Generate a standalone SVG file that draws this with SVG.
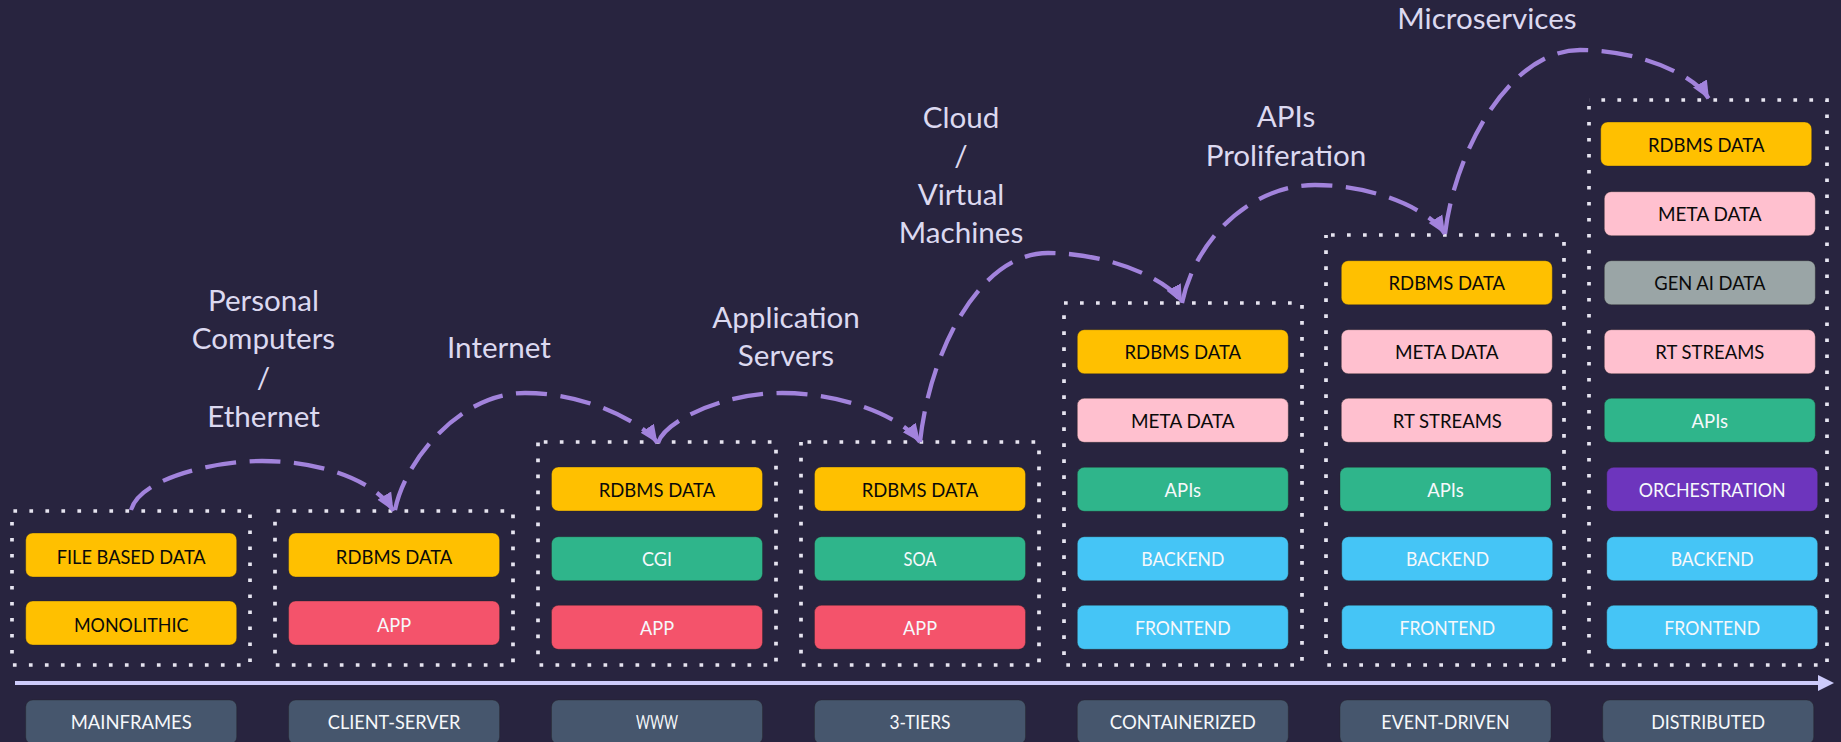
<svg xmlns="http://www.w3.org/2000/svg" width="1841" height="742" viewBox="0 0 1841 742">
<style>
text{font-family:"Lato","Carlito","Liberation Sans",sans-serif;text-anchor:middle}
.t{font-size:19.500px}
.k{fill:#0a0a0a}.w{fill:#f6f8fb}
.c{font-size:29.600px;fill:#dcd9f0}
.d{fill:none;stroke:#e6e4f0;stroke-width:3.700;stroke-dasharray:3.700 12.300}
.b{width:211px;height:44px;rx:7px;stroke-width:1;stroke-opacity:.35;stroke:#222}
.y{fill:#ffc000}.p{fill:#ffc0cf}.r{fill:#f4536b}.g{fill:#2fb58b}.s{fill:#45c5f6}.a{fill:#9aa5a6}.v{fill:#6d35bd}.l{fill:#46566d}
.e{fill:none;stroke:#a283dc;stroke-width:4.300;stroke-dasharray:31 13.500}
</style>
<defs>
<marker id="h" markerUnits="userSpaceOnUse" markerWidth="20" markerHeight="20" refX="18" refY="9" orient="auto"><path d="M0 1L18 9L0 17z" fill="#a283dc"/></marker>
<marker id="t" markerUnits="userSpaceOnUse" markerWidth="18" markerHeight="18" refX="0" refY="8" orient="auto"><path d="M0 0L16 8L0 16z" fill="#cdcbfb"/></marker>
</defs>
<rect width="1841" height="742" fill="#28243f"/>
<g id="frames">
<rect class="d" x="12" y="511" width="238" height="154" stroke-dashoffset="-1.400"/>
<rect class="d" x="275" y="511" width="238" height="154" stroke-dashoffset="-1.500"/>
<rect class="d" x="538" y="442" width="238" height="223" stroke-dashoffset="-5.800"/>
<rect class="d" x="801" y="442" width="238" height="223" stroke-dashoffset="-6.500"/>
<rect class="d" x="1064" y="303" width="238" height="362"/>
<rect class="d" x="1326" y="235" width="238" height="430" stroke-dashoffset="-5"/>
<rect class="d" x="1589" y="100" width="238" height="565" stroke-dashoffset="3.600"/>
</g>
<g id="connectors">
<path class="e" marker-end="url(#h)" d="M131 510C140 478 215 461 262 461C320 461 375 480 393.500 511"/>
<path class="e" marker-end="url(#h)" d="M395 510C405 460 460 393 525 393C590 393 645 425 657.500 443"/>
<path class="e" marker-end="url(#h)" d="M658 443C665 420 725 393 782 393C840 393 900 415 920 442"/>
<path class="e" marker-end="url(#h)" d="M920 442C930 350 980 253 1048 253C1110 253 1170 280 1182 303"/>
<path class="e" marker-end="url(#h)" d="M1182 303C1195 240 1250 185 1315 185C1375 185 1430 210 1445 234"/>
<path class="e" marker-end="url(#h)" d="M1445 234C1455 150 1510 50 1580 50C1640 50 1695 75 1709 99"/>
<line x1="15" y1="683" x2="1818" y2="683" stroke="#cdcbfb" stroke-width="4" marker-end="url(#t)"/>
</g>
<g id="captions">
<text class="c" x="263.500" y="311">Personal</text><text class="c" x="263.500" y="349">Computers</text><text class="c" x="263.500" y="388">/</text><text class="c" x="263.500" y="427">Ethernet</text>
<text class="c" x="499" y="358">Internet</text>
<text class="c" x="786" y="328">Application</text><text class="c" x="786" y="366">Servers</text>
<text class="c" x="961" y="128">Cloud</text><text class="c" x="961" y="166">/</text><text class="c" x="961" y="205">Virtual</text><text class="c" x="961" y="243">Machines</text>
<text class="c" x="1286" y="127">APIs</text><text class="c" x="1286" y="166">Proliferation</text>
<text class="c" x="1487" y="29">Microservices</text>
</g>
<g id="n1a"><rect class="b y" x="25.700" y="533"/><text class="t k" x="131.200" y="563.500" textLength="149" lengthAdjust="spacingAndGlyphs">FILE BASED DATA</text></g>
<g id="n1b"><rect class="b y" x="25.700" y="601"/><text class="t k" x="131.200" y="631.500" textLength="114.500" lengthAdjust="spacingAndGlyphs">MONOLITHIC</text></g>
<g id="n1c"><rect class="b l" x="25.700" y="700"/><text class="t w" x="131.200" y="729" textLength="121" lengthAdjust="spacingAndGlyphs">MAINFRAMES</text></g>
<g id="n2a"><rect class="b y" x="288.600" y="533"/><text class="t k" x="394.100" y="563.500" textLength="116.500" lengthAdjust="spacingAndGlyphs">RDBMS DATA</text></g>
<g id="n2b"><rect class="b r" x="288.600" y="601"/><text class="t w" x="394.100" y="631.500" textLength="34" lengthAdjust="spacingAndGlyphs">APP</text></g>
<g id="n2c"><rect class="b l" x="288.600" y="700"/><text class="t w" x="394.100" y="729" textLength="132.500" lengthAdjust="spacingAndGlyphs">CLIENT-SERVER</text></g>
<g id="n3a"><rect class="b y" x="551.500" y="467"/><text class="t k" x="657" y="496.800" textLength="116.500" lengthAdjust="spacingAndGlyphs">RDBMS DATA</text></g>
<g id="n3b"><rect class="b g" x="551.500" y="536.700"/><text class="t w" x="657" y="566" textLength="30" lengthAdjust="spacingAndGlyphs">CGI</text></g>
<g id="n3c"><rect class="b r" x="551.500" y="605.300"/><text class="t w" x="657" y="634.800" textLength="34" lengthAdjust="spacingAndGlyphs">APP</text></g>
<g id="n3d"><rect class="b l" x="551.500" y="700"/><text class="t w" x="657" y="729" textLength="42" lengthAdjust="spacingAndGlyphs">WWW</text></g>
<g id="n4a"><rect class="b y" x="814.500" y="467"/><text class="t k" x="920" y="496.800" textLength="116.500" lengthAdjust="spacingAndGlyphs">RDBMS DATA</text></g>
<g id="n4b"><rect class="b g" x="814.500" y="536.700"/><text class="t w" x="920" y="566" textLength="33" lengthAdjust="spacingAndGlyphs">SOA</text></g>
<g id="n4c"><rect class="b r" x="814.500" y="605.300"/><text class="t w" x="920" y="634.800" textLength="34" lengthAdjust="spacingAndGlyphs">APP</text></g>
<g id="n4d"><rect class="b l" x="814.500" y="700"/><text class="t w" x="920" y="729" textLength="61" lengthAdjust="spacingAndGlyphs">3-TIERS</text></g>
<g id="n5a"><rect class="b y" x="1077.300" y="329.700"/><text class="t k" x="1182.800" y="359" textLength="116.500" lengthAdjust="spacingAndGlyphs">RDBMS DATA</text></g>
<g id="n5b"><rect class="b p" x="1077.300" y="398.300"/><text class="t k" x="1182.800" y="427.800" textLength="103.500" lengthAdjust="spacingAndGlyphs">META DATA</text></g>
<g id="n5c"><rect class="b g" x="1077.300" y="467.300"/><text class="t w" x="1182.800" y="496.800" textLength="36.500" lengthAdjust="spacingAndGlyphs">APIs</text></g>
<g id="n5d"><rect class="b s" x="1077.300" y="536.700"/><text class="t w" x="1182.800" y="566" textLength="83" lengthAdjust="spacingAndGlyphs">BACKEND</text></g>
<g id="n5e"><rect class="b s" x="1077.300" y="605.300"/><text class="t w" x="1182.800" y="634.800" textLength="95.700" lengthAdjust="spacingAndGlyphs">FRONTEND</text></g>
<g id="n5f"><rect class="b l" x="1077.300" y="700"/><text class="t w" x="1182.800" y="729" textLength="146" lengthAdjust="spacingAndGlyphs">CONTAINERIZED</text></g>
<g id="n6a"><rect class="b y" x="1341.300" y="260.700"/><text class="t k" x="1446.800" y="290" textLength="116.500" lengthAdjust="spacingAndGlyphs">RDBMS DATA</text></g>
<g id="n6b"><rect class="b p" x="1341.300" y="329.700"/><text class="t k" x="1446.800" y="359" textLength="103.500" lengthAdjust="spacingAndGlyphs">META DATA</text></g>
<g id="n6c"><rect class="b p" x="1341.300" y="398.300"/><text class="t k" x="1447.300" y="427.800" textLength="109" lengthAdjust="spacingAndGlyphs">RT STREAMS</text></g>
<g id="n6d"><rect class="b g" x="1340" y="467.300"/><text class="t w" x="1445.500" y="496.800" textLength="36.500" lengthAdjust="spacingAndGlyphs">APIs</text></g>
<g id="n6e"><rect class="b s" x="1341.700" y="536.700"/><text class="t w" x="1447.500" y="566" textLength="83" lengthAdjust="spacingAndGlyphs">BACKEND</text></g>
<g id="n6f"><rect class="b s" x="1341.700" y="605.300"/><text class="t w" x="1447.300" y="634.800" textLength="95.700" lengthAdjust="spacingAndGlyphs">FRONTEND</text></g>
<g id="n6g"><rect class="b l" x="1340" y="700"/><text class="t w" x="1445.500" y="729" textLength="128.300" lengthAdjust="spacingAndGlyphs">EVENT-DRIVEN</text></g>
<g id="n7a"><rect class="b y" x="1600.700" y="122"/><text class="t k" x="1706.200" y="151.500" textLength="116.500" lengthAdjust="spacingAndGlyphs">RDBMS DATA</text></g>
<g id="n7b"><rect class="b p" x="1604.300" y="191.700"/><text class="t k" x="1709.800" y="221" textLength="103.500" lengthAdjust="spacingAndGlyphs">META DATA</text></g>
<g id="n7c"><rect class="b a" x="1604.300" y="260.700"/><text class="t k" x="1709.800" y="290" textLength="111" lengthAdjust="spacingAndGlyphs">GEN AI DATA</text></g>
<g id="n7d"><rect class="b p" x="1604.300" y="329.700"/><text class="t k" x="1709.800" y="359" textLength="109" lengthAdjust="spacingAndGlyphs">RT STREAMS</text></g>
<g id="n7e"><rect class="b g" x="1604.300" y="398.300"/><text class="t w" x="1709.800" y="427.800" textLength="36.500" lengthAdjust="spacingAndGlyphs">APIs</text></g>
<g id="n7f"><rect class="b v" x="1606.700" y="467.300"/><text class="t w" x="1712.200" y="496.800" textLength="147" lengthAdjust="spacingAndGlyphs">ORCHESTRATION</text></g>
<g id="n7g"><rect class="b s" x="1606.700" y="536.700"/><text class="t w" x="1712.200" y="566" textLength="83" lengthAdjust="spacingAndGlyphs">BACKEND</text></g>
<g id="n7h"><rect class="b s" x="1606.700" y="605.300"/><text class="t w" x="1712.200" y="634.800" textLength="95.700" lengthAdjust="spacingAndGlyphs">FRONTEND</text></g>
<g id="n7i"><rect class="b l" x="1602.700" y="700"/><text class="t w" x="1708.200" y="729" textLength="114" lengthAdjust="spacingAndGlyphs">DISTRIBUTED</text></g>
</svg>
